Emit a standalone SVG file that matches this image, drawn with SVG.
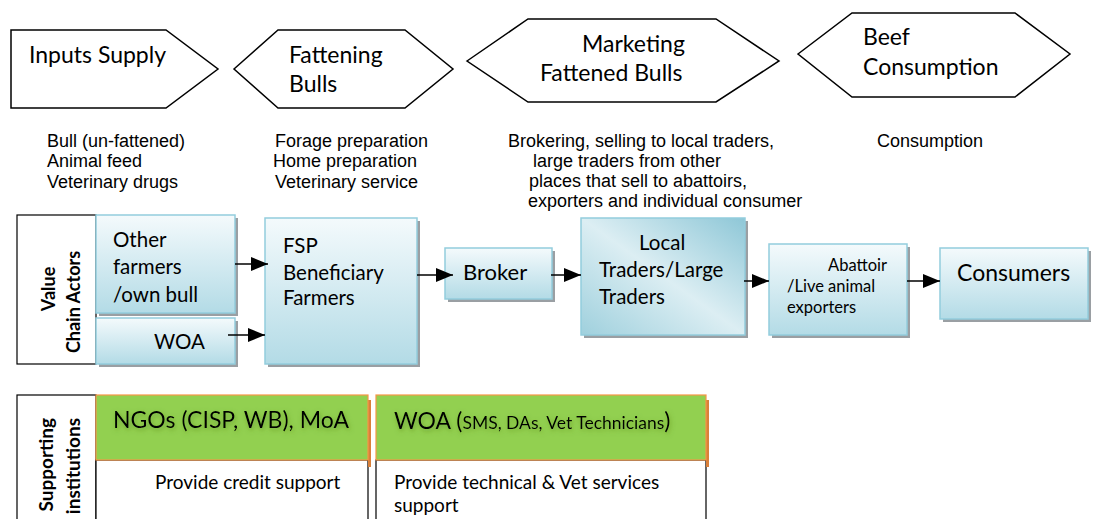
<svg xmlns="http://www.w3.org/2000/svg" width="1093" height="519" viewBox="0 0 1093 519">
<style>
.stage{fill:#fff;stroke:#000;stroke-width:1.5}
.t{font-family:Lato,"Open Sans",sans-serif;fill:#000}
.d{font-family:"Liberation Sans",Arial,sans-serif;font-size:18px;fill:#000}
.lbl{font-family:Lato,"Open Sans",sans-serif;font-weight:bold;font-size:18px;fill:#000}
.box{fill:url(#gv);stroke:#93cddd;stroke-width:1.5}
.sh{fill:#9a9fa3}
.conn line{stroke:#000;stroke-width:1.5;marker-end:url(#ah)}
.green{fill:#92d050;stroke:#f79646;stroke-width:1.2}
.gsh{fill:#d9803a}
.white{fill:#fff;stroke:#000;stroke-width:1.2}
</style>
<defs>
<linearGradient id="gv" x1="0" y1="0" x2="0" y2="1">
<stop offset="0" stop-color="#f4fafc"/>
<stop offset="1" stop-color="#b3dbe6"/>
</linearGradient>
<linearGradient id="gd" x1="1" y1="0" x2="0" y2="1">
<stop offset="0" stop-color="#8ec7d7"/>
<stop offset="0.5" stop-color="#dceef3"/>
<stop offset="1" stop-color="#9fd0dd"/>
</linearGradient>
<marker id="ah" markerWidth="17" markerHeight="14" refX="17" refY="7" orient="auto" markerUnits="userSpaceOnUse">
<path d="M0,0 L17,7 L0,14 z" fill="#000"/>
</marker>
<filter id="glow" x="-10%" y="-40%" width="120%" height="180%">
<feGaussianBlur in="SourceAlpha" stdDeviation="2.5" result="b"/>
<feOffset in="b" dx="1" dy="2" result="o"/>
<feFlood flood-color="#4d7a1e" flood-opacity="0.55"/>
<feComposite in2="o" operator="in" result="s"/>
<feMerge><feMergeNode in="s"/><feMergeNode in="SourceGraphic"/></feMerge>
</filter>
</defs>

<g id="stage-inputs">
<polygon class="stage" points="11,30 166,30 218,69 166,108 11,108"/>
<text class="t" x="29" y="63" font-size="23">Inputs Supply</text>
</g>
<g id="stage-fattening">
<polygon class="stage" points="234,69 278,30 405,30 453,69 405,108 278,108"/>
<text class="t" x="289" y="63" font-size="23">Fattening</text>
<text class="t" x="289" y="92" font-size="23">Bulls</text>
</g>
<g id="stage-marketing">
<polygon class="stage" points="467,61 528,19 716,19 779,61 716,102 528,102"/>
<text class="t" x="582" y="52" font-size="23">Marketing</text>
<text class="t" x="540" y="81" font-size="23">Fattened Bulls</text>
</g>
<g id="stage-consumption">
<polygon class="stage" points="798,54 852,13 1015,13 1070,54 1015,97 852,97"/>
<text class="t" x="863" y="45" font-size="23">Beef</text>
<text class="t" x="863" y="75" font-size="23">Consumption</text>
</g>

<g id="desc-inputs">
<text class="d" x="47" y="147">Bull (un-fattened)</text>
<text class="d" x="47" y="167">Animal feed</text>
<text class="d" x="47" y="188">Veterinary drugs</text>
</g>
<g id="desc-fattening">
<text class="d" x="275" y="147">Forage preparation</text>
<text class="d" x="273" y="167">Home preparation</text>
<text class="d" x="275" y="188">Veterinary service</text>
</g>
<g id="desc-marketing">
<text class="d" x="508" y="147">Brokering, selling to local traders,</text>
<text class="d" x="533" y="167">large traders from other</text>
<text class="d" x="529" y="187">places that sell to abattoirs,</text>
<text class="d" x="528" y="207">exporters and individual consumer</text>
</g>
<g id="desc-consumption">
<text class="d" x="877" y="147">Consumption</text>
</g>

<g id="label-actors">
<rect x="17" y="215" width="79" height="149" fill="#fff" stroke="#000" stroke-width="1.2"/>
<text class="lbl" text-anchor="middle" transform="translate(55,289) rotate(-90)">Value</text>
<text class="lbl" text-anchor="middle" transform="translate(80,302) rotate(-90)">Chain Actors</text>
</g>

<g id="node-other-farmers">
<rect class="sh" x="99" y="218" width="139" height="98"/>
<rect class="box" x="96" y="215" width="139" height="98"/>
<text class="t" font-size="20.5" x="113" y="247">Other</text>
<text class="t" font-size="20.5" x="113" y="274">farmers</text>
<text class="t" font-size="20.5" x="113" y="302">/own bull</text>
</g>
<g id="node-woa">
<rect class="sh" x="99" y="321" width="139" height="46"/>
<rect class="box" x="96" y="318" width="139" height="46"/>
<text class="t" font-size="20.5" x="154" y="349">WOA</text>
</g>
<g id="node-fsp">
<rect class="sh" x="268" y="221" width="152" height="146"/>
<rect class="box" x="265" y="218" width="152" height="146"/>
<text class="t" font-size="20.5" x="283" y="253">FSP</text>
<text class="t" font-size="20.5" x="283" y="280">Beneficiary</text>
<text class="t" font-size="20.5" x="283" y="305">Farmers</text>
</g>
<g id="node-broker">
<rect class="sh" x="448" y="251" width="107" height="51"/>
<rect class="box" x="445" y="248" width="107" height="51"/>
<text class="t" font-size="22" x="463" y="280">Broker</text>
</g>
<g id="node-traders">
<rect class="sh" x="584" y="221" width="164" height="117"/>
<rect class="box" x="581" y="218" width="164" height="117" style="fill:url(#gd)"/>
<text class="t" font-size="20.5" x="639" y="250">Local</text>
<text class="t" font-size="20.5" x="599" y="277">Traders/Large</text>
<text class="t" font-size="20.5" x="599" y="304">Traders</text>
</g>
<g id="node-abattoir">
<rect class="sh" x="772" y="247" width="138" height="91"/>
<rect class="box" x="769" y="244" width="138" height="91"/>
<text class="t" font-size="16.5" x="828" y="271">Abattoir</text>
<text class="t" font-size="16.5" x="787" y="292">/Live animal</text>
<text class="t" font-size="16.5" x="787" y="313">exporters</text>
</g>
<g id="node-consumers">
<rect class="sh" x="943" y="251" width="148" height="71"/>
<rect class="box" x="940" y="248" width="148" height="71"/>
<text class="t" font-size="23" x="957" y="281">Consumers</text>
</g>

<g id="connectors" class="conn">
<line x1="235" y1="264" x2="268" y2="264"/>
<line x1="228" y1="335" x2="265" y2="335"/>
<line x1="417" y1="275" x2="453" y2="275"/>
<line x1="551" y1="275" x2="581" y2="275"/>
<line x1="744" y1="281" x2="769" y2="281"/>
<line x1="907" y1="281" x2="940" y2="281"/>
</g>

<g id="label-support">
<rect x="17" y="395" width="79" height="130" fill="#fff" stroke="#000" stroke-width="1.2"/>
<text class="lbl" style="font-size:19px" text-anchor="end" transform="translate(53,418) rotate(-90)">Supporting</text>
<text class="lbl" style="font-size:19px" text-anchor="end" transform="translate(80,418) rotate(-90)">institutions</text>
</g>
<g id="inst-ngos">
<rect class="white" x="96" y="460" width="272" height="65"/>
<rect class="gsh" x="368" y="400" width="3" height="67"/>
<rect class="green" x="96" y="395" width="272" height="65"/>
<text class="t" font-size="23" x="113" y="428" filter="url(#glow)">NGOs (CISP, WB), MoA</text>
<text class="t" font-size="19" x="155" y="489">Provide credit support</text>
</g>
<g id="inst-woa">
<rect class="white" x="376" y="460" width="330" height="65"/>
<rect class="gsh" x="706" y="400" width="3" height="67"/>
<rect class="green" x="376" y="395" width="330" height="65"/>
<text class="t" font-size="23" x="394" y="429" filter="url(#glow)">WOA (<tspan font-size="17.5">SMS, DAs, Vet Technicians</tspan>)</text>
<text class="t" font-size="19" x="394" y="489">Provide technical &amp; Vet services</text>
<text class="t" font-size="19" x="394" y="512">support</text>
</g>
</svg>
